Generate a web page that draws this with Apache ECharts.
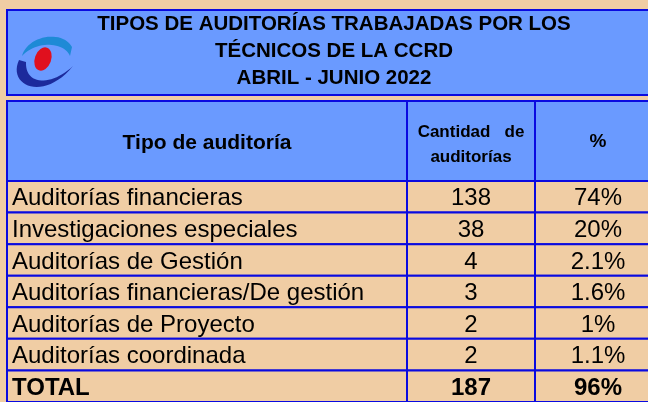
<!DOCTYPE html>
<html><head><meta charset="utf-8">
<script src="https://cdn.jsdelivr.net/npm/echarts@6/dist/echarts.min.js"></script>
<style>html,body{margin:0;padding:0;background:#F0CDA4}#c{width:648px;height:402px}</style>
</head><body><div id="c"></div>
<script>
const titleLines = ['TIPOS DE AUDITORÍAS TRABAJADAS POR LOS', 'TÉCNICOS DE LA CCRD', 'ABRIL - JUNIO 2022'];
const headers = ['Tipo de auditoría', 'Cantidad   de', 'auditorías', '%'];
const categories = ['Auditorías financieras', 'Investigaciones especiales', 'Auditorías de Gestión', 'Auditorías financieras/De gestión', 'Auditorías de Proyecto', 'Auditorías coordinada', 'TOTAL'];
const counts = ['138', '38', '4', '3', '2', '2', '187'];
const percents = ['74%', '20%', '2.1%', '1.6%', '1%', '1.1%', '96%'];

const TAN = '#F0CDA4', BLUE = '#6A9AFF', LINE = '#0A0AE0';
const colX = [7, 407, 535, 662];
const FONT = '"Liberation Sans", Arial, sans-serif';

function bez(p0, p1, p2, p3, n) {
  const pts = [];
  for (let i = 0; i <= n; i++) {
    const t = i / n, u = 1 - t;
    pts.push([u*u*u*p0[0] + 3*u*u*t*p1[0] + 3*u*t*t*p2[0] + t*t*t*p3[0],
              u*u*u*p0[1] + 3*u*u*t*p1[1] + 3*u*t*t*p2[1] + t*t*t*p3[1]]);
  }
  return pts;
}
const swirlTop = bez([22,56],[27,36],[62,29],[72,47],24).concat([[70,56]]).concat(bez([70,56],[64,42],[37,40],[22,56],24));
const swirlBot = bez([19,60],[7,86],[44,102],[73,66],24).concat(bez([73,66],[52,86],[25,86],[26,62],24));

function txt(x, y, text, size, bold, align, extra) {
  return Object.assign({type: 'text', x: x, y: y, z: 3,
    style: {text: text, fontSize: size, fontWeight: bold ? 'bold' : 'normal', fontFamily: FONT,
      fill: '#000', align: align || 'center', verticalAlign: 'middle'}}, extra || {});
}

const chart = echarts.init(document.getElementById('c'), null, {renderer: 'canvas'});

const headerEls = [];
for (let i = 0; i < 3; i++) {
  headerEls.push({type: 'rect', shape: {x: colX[i], y: 101, width: colX[i + 1] - colX[i], height: 80},
    style: {fill: BLUE, stroke: LINE, lineWidth: 2}, z: 1});
}
headerEls.push(txt((colX[0] + colX[1]) / 2, 143, headers[0], 21, true));
headerEls.push(txt((colX[1] + colX[2]) / 2, 132, headers[1], 17, true));
headerEls.push(txt((colX[1] + colX[2]) / 2, 157, headers[2], 17, true));
headerEls.push(txt(598, 142, headers[3], 19, true));

const titleEls = [
  {type: 'rect', shape: {x: 7, y: 10, width: 655, height: 85}, style: {fill: BLUE, stroke: LINE, lineWidth: 2}, z: 1},
  txt(334, 24, titleLines[0], 20.5, true),
  txt(334, 51, titleLines[1], 20.5, true),
  txt(334, 78, titleLines[2], 20.5, true),
  {type: 'polygon', shape: {points: swirlTop}, style: {fill: '#1E8AD6'}, z: 3},
  {type: 'polygon', shape: {points: swirlBot}, style: {fill: '#1C2A9C'}, z: 3},
  {type: 'circle', shape: {cx: 0, cy: 0, r: 12}, x: 43, y: 59, scaleX: 0.68, rotation: -0.35, style: {fill: '#E0101E'}, z: 4}
];

chart.setOption({
  animation: false,
  backgroundColor: TAN,
  grid: {left: 7, top: 181, width: 655, height: 225.4},
  xAxis: {type: 'value', min: 0, max: 1, show: false},
  yAxis: {type: 'category', data: categories, inverse: true, show: false},
  graphic: {elements: titleEls.concat(headerEls)},
  series: [{
    type: 'custom',
    data: categories.map((c, i) => [i]),
    encode: {y: 0},
    renderItem: function (params, api) {
      const idx = api.value(0);
      const cy = api.coord([0, idx])[1];
      const h = api.size([0, 1])[1];
      const top = cy - h / 2;
      const bold = categories[idx] === 'TOTAL';
      const children = [];
      for (let i = 0; i < 3; i++) {
        children.push({type: 'rect', shape: {x: colX[i], y: top, width: colX[i + 1] - colX[i], height: h},
          style: {fill: TAN, stroke: LINE, lineWidth: 2}});
      }
      children.push(txt(12, cy + 2, categories[idx], 24, bold, 'left'));
      children.push(txt(471, cy + 2, counts[idx], 24, bold));
      children.push(txt(598, cy + 2, percents[idx], 24, bold));
      return {type: 'group', children: children};
    }
  }]
});
</script></body></html>
